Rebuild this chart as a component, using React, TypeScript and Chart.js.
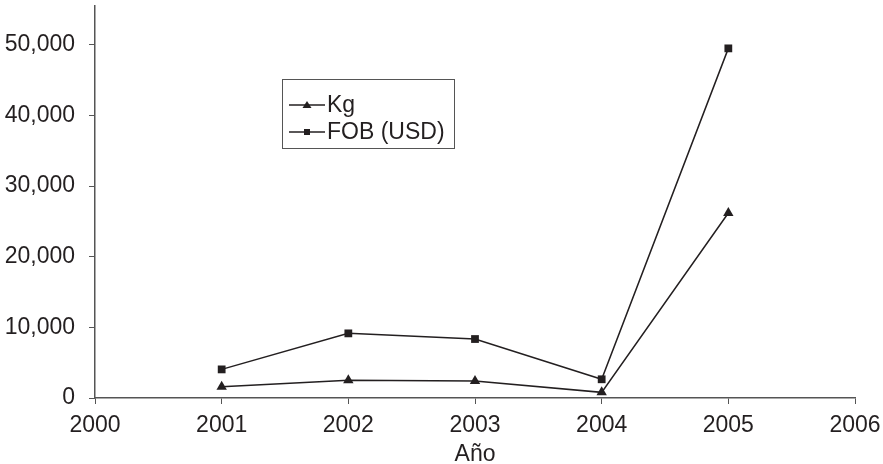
import React, { useEffect, useRef } from "react";
import { Chart, registerables } from "chart.js";

Chart.register(...registerables);

const years = [2001, 2002, 2003, 2004, 2005];
const kgValues = [1600, 2500, 2400, 800, 26200];
const fobValues = [4050, 9150, 8350, 2650, 49500];
const seriesNames = ["Kg", "FOB (USD)"];
const xAxisTitle = "Año";
const yTickValues = [0, 10000, 20000, 30000, 40000, 50000];
const xTickValues = [2000, 2001, 2002, 2003, 2004, 2005, 2006];

const FONT = "'Liberation Sans', Arial, sans-serif";
const INK = "#231f20";
const AXIS = "#555555";

const legendPlugin = {
  id: "boxLegend",
  afterDraw(chart: any) {
    const ctx = chart.ctx as CanvasRenderingContext2D;
    ctx.save();
    ctx.strokeStyle = AXIS;
    ctx.lineWidth = 1;
    ctx.strokeRect(282.5, 79.5, 172, 69);
    const rows = [
      { y: 105, style: "triangle", label: seriesNames[0] },
      { y: 132, style: "rect", label: seriesNames[1] },
    ];
    for (const r of rows) {
      ctx.strokeStyle = INK;
      ctx.lineWidth = 1.5;
      ctx.beginPath();
      ctx.moveTo(289, r.y);
      ctx.lineTo(325, r.y);
      ctx.stroke();
      ctx.fillStyle = INK;
      ctx.beginPath();
      if (r.style === "triangle") {
        ctx.moveTo(307, r.y - 4);
        ctx.lineTo(311.5, r.y + 3);
        ctx.lineTo(302.5, r.y + 3);
        ctx.closePath();
      } else {
        ctx.rect(304, r.y - 3, 6, 6);
      }
      ctx.fill();
      ctx.font = `23px ${FONT}`;
      ctx.textBaseline = "middle";
      ctx.textAlign = "left";
      ctx.fillText(r.label, 327, r.y + 1);
    }
    ctx.restore();
  },
};

const zeroPad = (s: any) => {
  s.paddingTop = 0;
  s.paddingBottom = 0;
  s.paddingLeft = 0;
  s.paddingRight = 0;
};

export default function App() {
  const ref = useRef<HTMLCanvasElement>(null);
  useEffect(() => {
    if (!ref.current) return;
    const chart = new Chart(ref.current, {
      type: "line",
      data: {
        datasets: [
          {
            label: seriesNames[0],
            data: years.map((y, i) => ({ x: y, y: kgValues[i] })),
            borderColor: INK,
            backgroundColor: INK,
            borderWidth: 1.5,
            pointStyle: "triangle",
            pointRadius: 6,
            pointBorderWidth: 0,
            tension: 0,
          },
          {
            label: seriesNames[1],
            data: years.map((y, i) => ({ x: y, y: fobValues[i] })),
            borderColor: INK,
            backgroundColor: INK,
            borderWidth: 1.5,
            pointStyle: "rect",
            pointRadius: 5.5,
            pointBorderWidth: 0,
            tension: 0,
          },
        ],
      },
      options: {
        animation: false,
        responsive: false,
        maintainAspectRatio: false,
        layout: { padding: { top: 3, right: 28, left: 0, bottom: 0 } },
        plugins: { legend: { display: false }, tooltip: { enabled: false } },
        scales: {
          x: {
            type: "linear",
            min: 2000,
            max: 2006,
            afterFit: (s: any) => {
              s.height = 66;
              zeroPad(s);
            },
            afterBuildTicks: (s: any) => {
              s.ticks = xTickValues.map((v) => ({ value: v }));
            },
            ticks: {
              color: INK,
              font: { family: FONT, size: 23 },
              padding: 8,
              maxRotation: 0,
              autoSkip: false,
              callback: (v: any) => String(v),
            },
            grid: {
              drawOnChartArea: false,
              drawTicks: true,
              tickLength: 6,
              tickColor: AXIS,
              color: AXIS,
            },
            border: { color: AXIS, width: 1.5 },
            title: {
              display: true,
              text: xAxisTitle,
              color: INK,
              font: { family: FONT, size: 23 },
              padding: { top: 0, bottom: -4 },
            },
          },
          y: {
            type: "linear",
            min: 0,
            max: 55500,
            afterFit: (s: any) => {
              s.width = 95;
              zeroPad(s);
            },
            afterBuildTicks: (s: any) => {
              s.ticks = yTickValues.map((v) => ({ value: v }));
            },
            ticks: {
              color: INK,
              font: { family: FONT, size: 23 },
              padding: 14,
              autoSkip: false,
              callback: (v: any) => Number(v).toLocaleString("en-US"),
            },
            grid: {
              drawOnChartArea: false,
              drawTicks: true,
              tickLength: 6,
              tickColor: AXIS,
              color: AXIS,
            },
            border: { color: AXIS, width: 1.5 },
          },
        },
      },
      plugins: [legendPlugin],
    });
    return () => chart.destroy();
  }, []);
  return (
    <div style={{ position: "fixed", left: 0, top: 0, width: 883, height: 464, background: "#fff" }}>
      <canvas ref={ref} width={883} height={464} style={{ width: 883, height: 464 }} />
    </div>
  );
}
